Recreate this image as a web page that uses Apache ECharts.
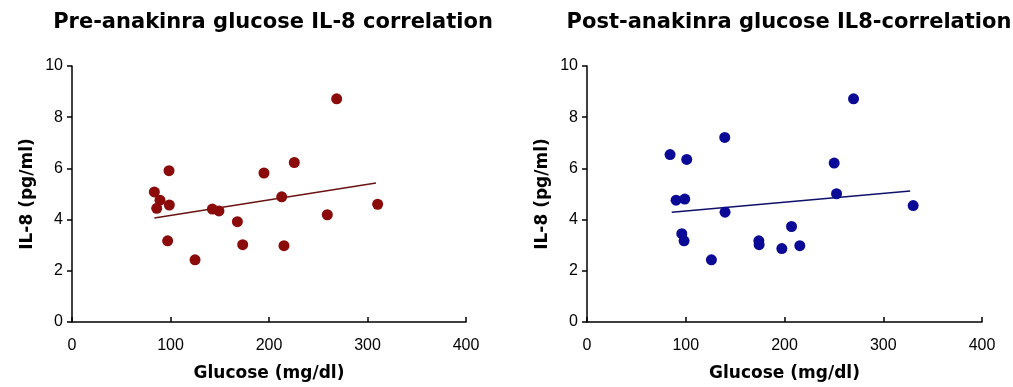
<!DOCTYPE html>
<html><head><meta charset="utf-8">
<script src="https://cdn.jsdelivr.net/npm/echarts@6/dist/echarts.min.js"></script>
<style>html,body{margin:0;padding:0;background:#fff;}#c{width:1013px;height:387px;}</style>
</head><body><div id="c"></div>
<script>
const titles = ['Pre-anakinra glucose IL-8 correlation', 'Post-anakinra glucose IL8-correlation'];
const xName = 'Glucose (mg/dl)';
const yName = 'IL-8 (pg/ml)';
const preGlucose = [83.6, 89.3, 86, 98.5, 98.8, 97.1, 124.9, 142.5, 149.2, 167.9, 173.3, 194.9, 212.9, 215.2, 225.7, 259.2, 268.7, 310.3];
const preIL8     = [5.08, 4.76, 4.44, 5.91, 4.57, 3.17, 2.43, 4.41, 4.34, 3.92, 3.02, 5.82, 4.89, 2.98, 6.23, 4.19, 8.72, 4.60];
const postGlucose = [84.1, 90.2, 99, 101, 96, 98.3, 126, 139.5, 139.8, 174, 174.3, 197.3, 207.1, 215.5, 250.3, 252.7, 269.9, 330.3];
const postIL8     = [6.54, 4.76, 4.80, 6.35, 3.45, 3.17, 2.43, 7.21, 4.29, 3.17, 3.02, 2.87, 3.73, 2.98, 6.21, 5.01, 8.72, 4.55];
const preTrendX = [83.6, 308.6];
const preTrendY = [4.06, 5.43];
const postTrendX = [85.8, 327.3];
const postTrendY = [4.29, 5.12];
const xTicks = [0, 100, 200, 300, 400];
const yTicks = [0, 2, 4, 6, 8, 10];

const zip = (a, b) => a.map((v, i) => [v, b[i]]);
const grids = [
  {left: 72, top: 66, width: 394, height: 261},
  {left: 587, top: 66, width: 395, height: 261}
];
const titleFont = {fontFamily: 'DejaVu Sans', fontWeight: 'bold', fontSize: 21, color: '#000'};
const nameFont = {fontFamily: 'DejaVu Sans', fontWeight: 'bold', fontSize: 17, color: '#000'};
const labelFont = {fontFamily: 'Liberation Sans', fontSize: 16, color: '#000'};
const axisLine = {show: true, onZero: false, lineStyle: {color: '#000', width: 1.5}};

function xAx(i) {
  return {gridIndex: i, type: 'value', min: 0, max: 400, interval: 100,
    name: xName, nameLocation: 'middle', nameGap: 43, nameTextStyle: nameFont,
    axisLine: axisLine, axisTick: {show: true, inside: true, length: 5, lineStyle: {color: '#000', width: 1.5}},
    axisLabel: Object.assign({margin: 16, formatter: v => xTicks.includes(v) ? String(v) : ''}, labelFont),
    splitLine: {show: false}};
}
function yAx(i) {
  return {gridIndex: i, type: 'value', min: 0, max: 10, interval: 2,
    name: yName, nameLocation: 'middle', nameGap: 36, nameRotate: 90, nameTextStyle: nameFont,
    axisLine: axisLine, axisTick: {show: true, inside: false, length: 5, lineStyle: {color: '#000', width: 1.5}},
    axisLabel: Object.assign({margin: 9, formatter: v => yTicks.includes(v) ? String(v) : ''}, labelFont),
    splitLine: {show: false}};
}
const chart = echarts.init(document.getElementById('c'), null, {renderer: 'canvas'});
chart.setOption({
  animation: false,
  backgroundColor: '#fff',
  title: [
    {text: titles[0], left: 268, top: 7, textAlign: 'center', textStyle: titleFont},
    {text: titles[1], left: 784, top: 7, textAlign: 'center', textStyle: titleFont}
  ],
  grid: grids,
  xAxis: [xAx(0), xAx(1)],
  yAxis: [yAx(0), yAx(1)],
  series: [
    {type: 'line', xAxisIndex: 0, yAxisIndex: 0, data: zip(preTrendX, preTrendY), symbol: 'none',
     lineStyle: {color: '#6b1212', width: 1.5}, z: 1},
    {type: 'scatter', xAxisIndex: 0, yAxisIndex: 0, data: zip(preGlucose, preIL8), symbol: 'circle', symbolSize: 11,
     itemStyle: {color: '#8b0a0a', opacity: 1}, z: 2},
    {type: 'line', xAxisIndex: 1, yAxisIndex: 1, data: zip(postTrendX, postTrendY), symbol: 'none',
     lineStyle: {color: '#10106a', width: 1.5}, z: 1},
    {type: 'scatter', xAxisIndex: 1, yAxisIndex: 1, data: zip(postGlucose, postIL8), symbol: 'circle', symbolSize: 11,
     itemStyle: {color: '#0a0a96', opacity: 1}, z: 2}
  ]
});
</script></body></html>
